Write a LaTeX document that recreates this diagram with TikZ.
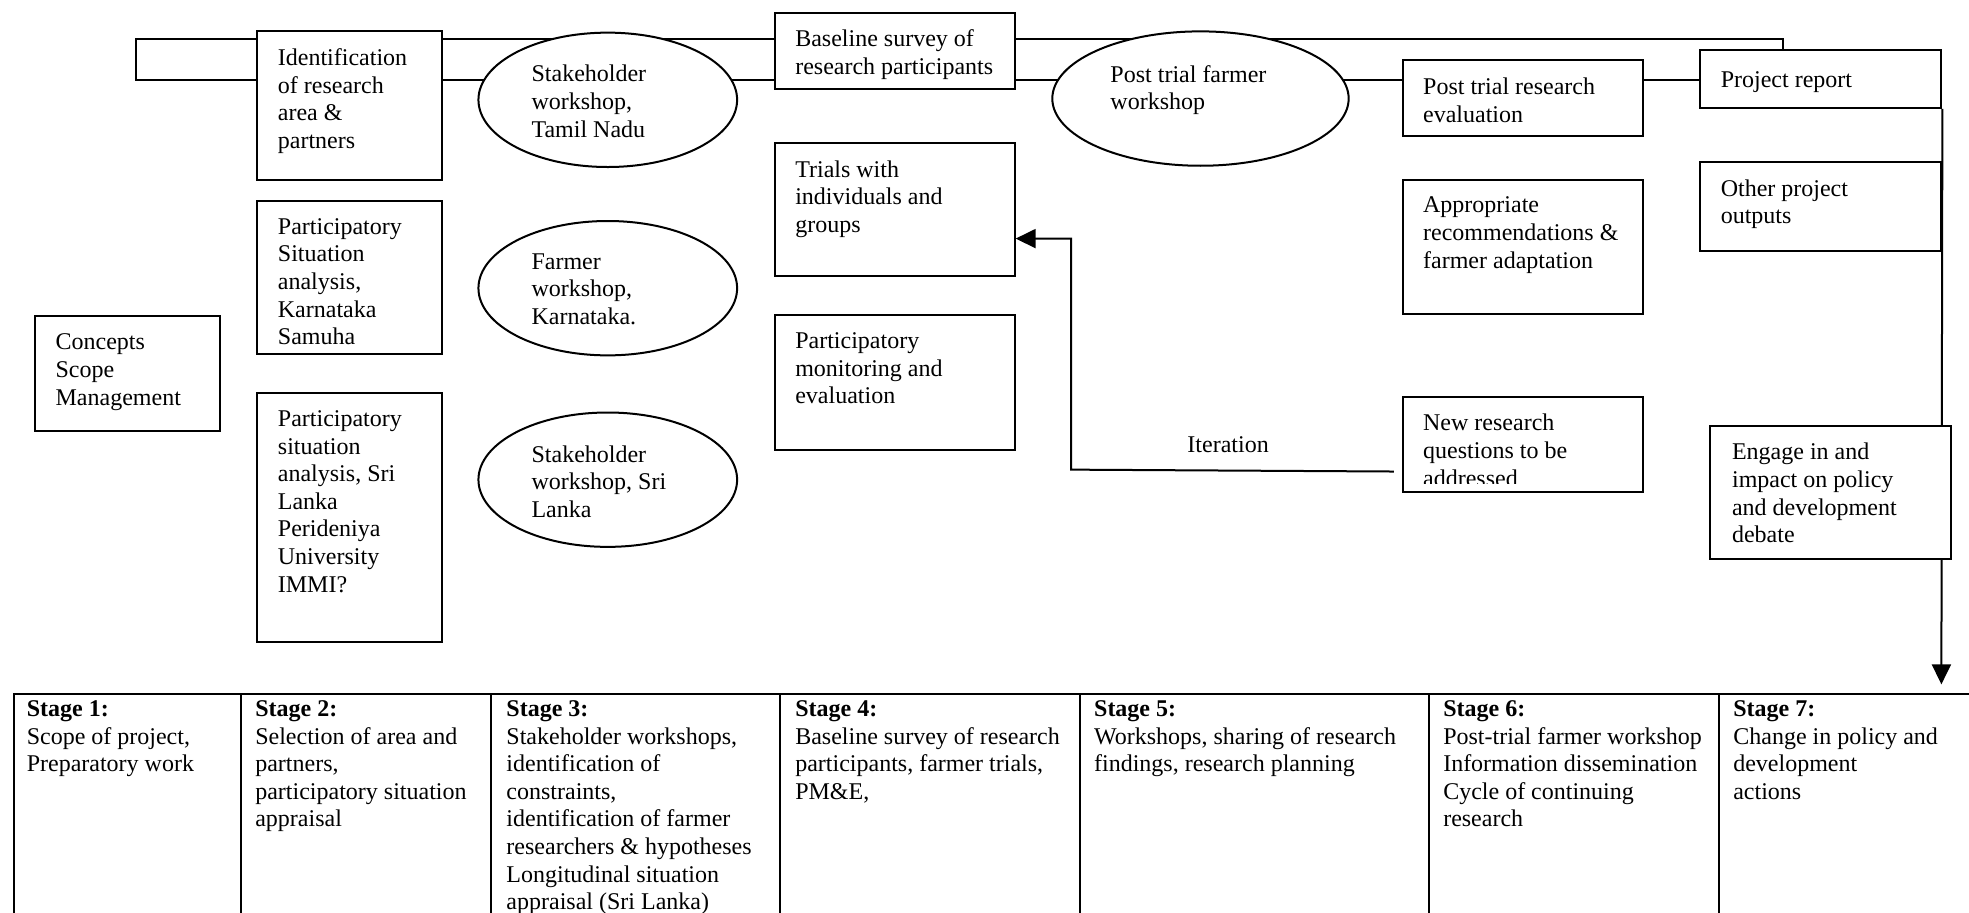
\documentclass[tikz,border=0pt]{standalone}
\usepackage{fontspec}
\setmainfont{Liberation Serif}
\usetikzlibrary{shapes.geometric,arrows.meta,fit,backgrounds,calc}
\begin{document}
\begin{tikzpicture}[x=0.62785pt,y=-0.62785pt,
  lw/.style={line width=1pt},
  boxst/.style={draw, lw, fill=white, inner sep=0pt, rectangle},
  ell/.style={draw, lw, fill=white, ellipse, inner sep=0pt, minimum width=129.34pt, minimum height=67.18pt},
  txt/.style={anchor=north west, inner sep=0pt, yshift=-1.9pt, align=left, font=\fontsize{12}{13.8}\selectfont, execute at begin node=\strut},
  conn/.style={lw},
  tipst/.style={-{Triangle[length=10pt,width=9.5pt]}}]
\useasboundingbox (0,0) rectangle (1568,727);

% ---- rectangles ----
\node[boxst, fit={(205,25) (352,143)}] (ident) {};
\node[txt] (ident-t) at (221,35.6) {Identification\\of research\\area \&\\partners};
\node[boxst, fit={(205,160) (352,282)}] (psk) {};
\node[txt] (psk-t) at (221,170.6) {Participatory\\Situation\\analysis,\\Karnataka\\Samuha};
\node[boxst, fit={(205,313) (352,511)}] (psl) {};
\node[txt] (psl-t) at (221,323.6) {Participatory\\situation\\analysis, Sri\\Lanka\\Perideniya\\University\\IMMI?};
\node[boxst, fit={(28,252) (175,343)}] (conc) {};
\node[txt] (conc-t) at (44,262.6) {Concepts\\Scope\\Management};
\node[boxst, fit={(617,10) (808,71)}] (base) {};
\node[txt] (base-t) at (633,20.6) {Baseline survey of\\research participants};
\node[boxst, fit={(617,114) (808,220)}] (trials) {};
\node[txt] (trials-t) at (633,124.6) {Trials with\\individuals and\\groups};
\node[boxst, fit={(617,251) (808,358)}] (pme) {};
\node[txt] (pme-t) at (633,261.6) {Participatory\\monitoring and\\evaluation};
\node[boxst, fit={(1117,48) (1308,108)}] (pte) {};
\node[txt] (pte-t) at (1133,58.6) {Post trial research\\evaluation};
\node[boxst, fit={(1117,143) (1308,250)}] (appr) {};
\node[txt] (appr-t) at (1133,153.6) {Appropriate\\recommendations \&\\farmer adaptation};
\node[boxst, fit={(1117,316) (1308,392)}] (newr) {};
\begin{scope}
\clip (1117,316) rectangle (1308,385);
\node[txt] (newr-t) at (1133,326.6) {New research\\questions to be\\addressed};
\end{scope}
\node[boxst, fit={(1354,40) (1546,86)}] (pr) {};
\node[txt] (pr-t) at (1370,50.6) {Project report};
\node[boxst, fit={(1354,129) (1546,200)}] (other) {};
\node[txt] (other-t) at (1370,139.6) {Other project\\outputs};
\node[boxst, fit={(1362,339) (1554,445)}] (engage) {};
\node[txt] (engage-t) at (1379,349.6) {Engage in and\\impact on policy\\and development\\debate};

% ---- ellipses ----
\node[ell] (stn) at (484,79.5) {};
\node[txt] (stn-t) at (423,48.6) {Stakeholder\\workshop,\\Tamil Nadu};
\node[ell] (fwk) at (484,229.5) {};
\node[txt] (fwk-t) at (423,198.6) {Farmer\\workshop,\\Karnataka.};
\node[ell] (ssl) at (484,382) {};
\node[txt] (ssl-t) at (423,351.6) {Stakeholder\\workshop, Sri\\Lanka};
\node[ell, minimum width=148.17pt] (ptf) at (956,78.5) {};
\node[txt] (ptf-t) at (884,48.6) {Post trial farmer\\workshop};

% ---- connectors (behind the shapes) ----
\coordinate (lt) at (108,31);
\coordinate (lb) at (108,64);
\coordinate (tip) at (1546,545);
\coordinate (itA) at (1110,375.5);
\begin{pgfonlayer}{background}
\draw[conn] ($(pr.north west)!0.344!(pr.north east)$) |- (lt) -- (lb) -- (lb -| pr.west);
\draw[conn, tipst] (pr.south east) -- (tip);
\draw[conn, tipst] (itA) -- (853,374) |- ($(trials.east)+(0,23)$);
\end{pgfonlayer}
\node[inner sep=0pt, font=\fontsize{12}{13.8}\selectfont] (itl) at (978,354) {Iteration};

% ---- stage table ----
\draw[conn] (11,727) -- (11,553) -- (1568,553);
\foreach \x in {192,391,621,860,1138,1369} \draw[conn] (\x,553) -- (\x,727);
\node[txt] (s1) at (21,554.6) {\textbf{Stage 1:}\\Scope of project,\\Preparatory work};
\node[txt] (s2) at (203,554.6) {\textbf{Stage 2:}\\Selection of area and\\partners,\\participatory situation\\appraisal};
\node[txt] (s3) at (403,554.6) {\textbf{Stage 3:}\\Stakeholder workshops,\\identification of\\constraints,\\identification of farmer\\researchers \& hypotheses\\Longitudinal situation\\appraisal (Sri Lanka)};
\node[txt] (s4) at (633,554.6) {\textbf{Stage 4:}\\Baseline survey of research\\participants, farmer trials,\\PM\&E,};
\node[txt] (s5) at (871,554.6) {\textbf{Stage 5:}\\Workshops, sharing of research\\findings, research planning};
\node[txt] (s6) at (1149,554.6) {\textbf{Stage 6:}\\Post-trial farmer workshop\\Information dissemination\\Cycle of continuing\\research};
\node[txt] (s7) at (1380,554.6) {\textbf{Stage 7:}\\Change in policy and\\development\\actions};
\end{tikzpicture}
\end{document}
